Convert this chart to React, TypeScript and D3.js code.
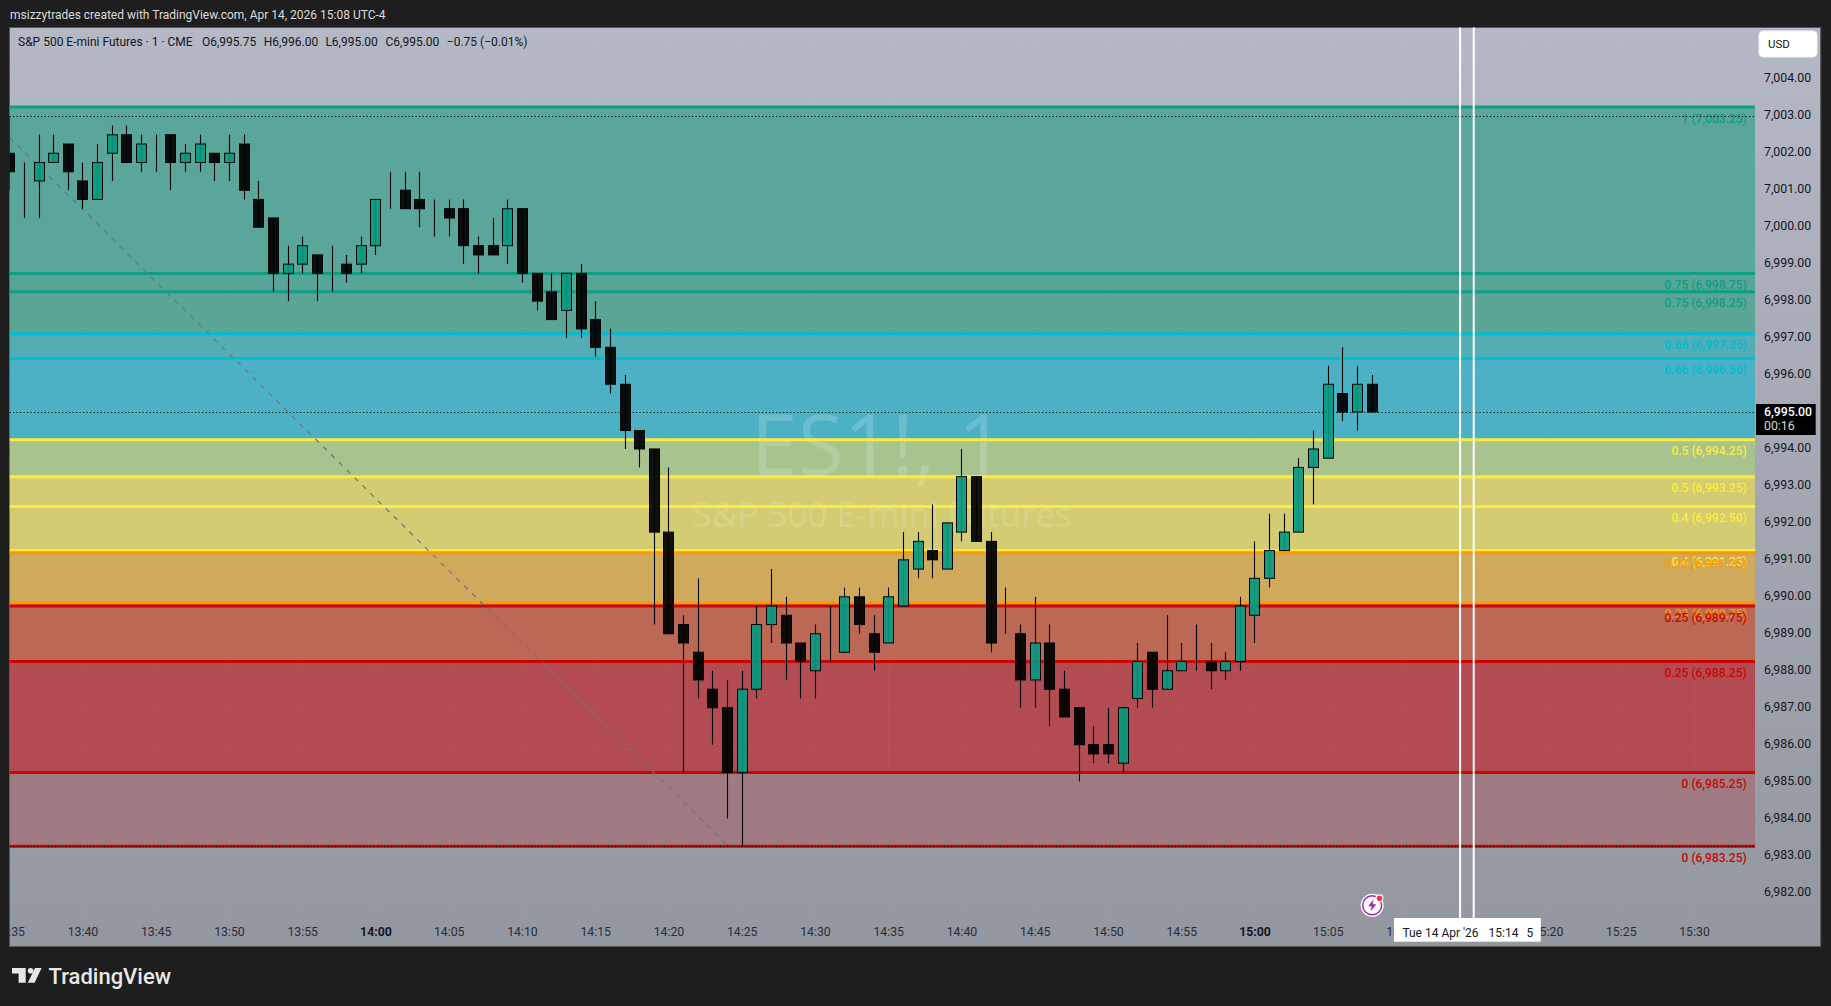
import * as d3 from 'd3';
import { useEffect, useRef } from 'react';

const WIDTH = 1831;
const HEIGHT = 1006;
const FONT = 'Roboto, "Noto Sans", sans-serif';

// one value per 1 minute bar, starting at 13:35
const opens = [
  7002, 7001.5, 7001.25, 7001.75, 7002.25, 7001.25, 7000.75, 7002, 7002.5, 7001.75,
  7002.25, 7002.5, 7001.75, 7001.75, 7002, 7001.75, 7002.25, 7000.75, 7000.25, 6998.75,
  6999, 6999.25, 6999, 6999, 6999, 6999.5, 7000.75, 7001, 7000.75, 7000.5,
  7000.5, 7000.5, 6999.5, 6999.5, 6999.5, 7000.5, 6998.75, 6998.25, 6997.75, 6998.75,
  6997.5, 6996.75, 6995.75, 6994.5, 6994, 6991.75, 6989.25, 6988.5, 6987.5, 6987,
  6985.25, 6987.5, 6989.25, 6989.5, 6988.75, 6988, 6988.75, 6988.5, 6990, 6989,
  6988.75, 6989.75, 6990.75, 6991.25, 6990.75, 6991.75, 6993.25, 6991.5, 6989, 6989,
  6987.75, 6988.75, 6987.5, 6987, 6986, 6986, 6985.5, 6987.25, 6988.5, 6987.5,
  6988, 6988.25, 6988.25, 6988, 6988.25, 6989.5, 6990.5, 6991.25, 6991.75, 6993.5,
  6993.75, 6995.5, 6995, 6995.75,
];
const highs = [
  7003, 7001.75, 7002.5, 7002.5, 7002.25, 7001.75, 7002.25, 7002.75, 7002.75, 7002.5,
  7002.5, 7002.5, 7002.25, 7002.5, 7002, 7002.5, 7002.5, 7001.25, 7000.25, 6999.5,
  6999.75, 6999.25, 6999.5, 6999.25, 6999.75, 7000.75, 7001.5, 7001.5, 7001.5, 7000.75,
  7000.75, 7000.75, 6999.75, 7000.25, 7000.75, 7000.5, 6998.75, 6998.75, 6998.75, 6999,
  6998, 6997.25, 6996, 6994.5, 6994, 6993.5, 6989.5, 6990.5, 6988, 6987.75,
  6988, 6989.75, 6990.75, 6990, 6988.75, 6989.25, 6989.75, 6990.25, 6990.25, 6989.5,
  6990.25, 6991.75, 6991.75, 6992.5, 6992, 6994, 6993.25, 6991.75, 6990.25, 6989.25,
  6990, 6989.25, 6988, 6987, 6986.5, 6987, 6987, 6988.75, 6988.5, 6989.5,
  6988.75, 6989.25, 6988.75, 6988.5, 6990, 6991.5, 6992.25, 6992.25, 6993.75, 6994.5,
  6996.25, 6996.75, 6996.25, 6996,
];
const lows = [
  7001, 7000.25, 7000.25, 7001.75, 7001, 7000.5, 7000.75, 7001.25, 7001.75, 7001.5,
  7001.5, 7001, 7001.5, 7001.5, 7001.25, 7001.25, 7000.75, 7000, 6998.25, 6998,
  6998.75, 6998, 6998.25, 6998.5, 6998.75, 6999.25, 7000.5, 7000.5, 7000, 6999.75,
  6999.75, 6999, 6998.75, 6999.25, 6999, 6998.5, 6997.75, 6997.5, 6997, 6997,
  6996.5, 6995.5, 6994, 6993.5, 6989.25, 6989, 6985.25, 6987.25, 6986, 6984,
  6983.25, 6987.25, 6988.75, 6987.75, 6987.25, 6987.25, 6988.25, 6988.5, 6989, 6988,
  6988.75, 6989.75, 6990.5, 6990.5, 6990.75, 6991.5, 6991.5, 6988.5, 6989, 6987,
  6987, 6986.5, 6986.75, 6985, 6985.5, 6985.5, 6985.25, 6987, 6987, 6987.5,
  6988, 6988, 6987.5, 6987.75, 6988, 6988.75, 6990.25, 6991.25, 6991.75, 6992.5,
  6993.75, 6994.75, 6994.5, 6995,
];
const closes = [
  7001.5, 7001.5, 7001.75, 7002, 7001.5, 7000.75, 7001.75, 7002.5, 7001.75, 7002.25,
  7002.25, 7001.75, 7002, 7002.25, 7001.75, 7002, 7001, 7000, 6998.75, 6999,
  6999.5, 6998.75, 6999, 6998.75, 6999.5, 7000.75, 7000.75, 7000.5, 7000.5, 7000.5,
  7000.25, 6999.5, 6999.25, 6999.25, 7000.5, 6998.75, 6998, 6997.5, 6998.75, 6997.25,
  6996.75, 6995.75, 6994.5, 6994, 6991.75, 6989, 6988.75, 6987.75, 6987, 6985.25,
  6987.5, 6989.25, 6989.75, 6988.75, 6988.25, 6989, 6988.75, 6990, 6989.25, 6988.5,
  6990, 6991, 6991.5, 6991, 6992, 6993.25, 6991.5, 6988.75, 6989, 6987.75,
  6988.75, 6987.5, 6986.75, 6986, 6985.75, 6985.75, 6987, 6988.25, 6987.5, 6988,
  6988.25, 6988.25, 6988, 6988.25, 6989.75, 6990.5, 6991.25, 6991.75, 6993.5, 6994,
  6995.75, 6995, 6995.75, 6995,
];

const levelPrices = [
  7003.25, 6998.75, 6998.25, 6997.12, 6996.45, 6994.25, 6993.25, 6992.44, 6991.25, 6991.19,
  6989.84, 6989.75, 6988.25, 6985.25, 6983.25,
];
const levelLabels = [
  '1 (7,003.25)', '0.75 (6,998.75)', '0.75 (6,998.25)', '0.66 (6,997.25)', '0.66 (6,996.50)',
  '0.5 (6,994.25)', '0.5 (6,993.25)', '0.4 (6,992.50)', '0.4 (6,991.25)', '0.33 (6,991.25)',
  '0.33 (6,989.75)', '0.25 (6,989.75)', '0.25 (6,988.25)', '0 (6,985.25)', '0 (6,983.25)',
];
const levelColors = [
  '#0f9e83', '#0f9e83', '#0f9e83', '#00bcd4', '#00bcd4', '#ffeb3b', '#ffeb3b', '#ffeb3b', '#ffeb3b',
  '#ff9800', '#ff9800', '#cc0505', '#cc0505', '#cc0505', '#cc0505',
];
// band drawn between level i and level i + 1
const zoneColors = [
  '#5aa69a', '#57a597', '#5aa596', '#53adb5', '#4db1c6', '#a9c38f', '#d3cc72', '#d3cc72', '#d3cc72',
  '#cfaa5c', '#c38a56', '#bb6854', '#b24c52', '#a07a82',
];

const timeLabels = [
  '13:35', '13:40', '13:45', '13:50', '13:55', '14:00', '14:05', '14:10', '14:15', '14:20',
  '14:25', '14:30', '14:35', '14:40', '14:45', '14:50', '14:55', '15:00', '15:05', '15:10',
  '15:15', '15:20', '15:25', '15:30',
];
const boldTimes = ['14:00', '15:00'];
const priceTicks = d3.range(6982, 7005);
const dottedPrices = [7003, 6995, 6983.25];
const legendParts = [
  'S&P 500 E-mini Futures · 1 · CME',
  'O6,995.75',
  'H6,996.00',
  'L6,995.00',
  'C6,995.00',
  '−0.75 (−0.01%)',
];
const legendX = [18, 202, 263.7, 325.4, 385.5, 446.8];
const crosshairBars = [99, 99.93];
const trendBars = [0.02, 49.05];
const trendPrices = [7002.42, 6983.25];

export default function App(): React.ReactElement {
  const svgRef = useRef<SVGSVGElement>(null);

  useEffect(() => {
    if (!svgRef.current) return;
    const svg = d3.select(svgRef.current);
    svg.selectAll('*').remove();

    const pane = { left: 9.5, top: 27.5, right: 1820.7, bottom: 946.5, plotRight: 1755 };
    const x = d3.scaleLinear().domain([0, 115]).range([9.7, 1694.5]);
    const y = d3.scaleLinear().domain([7003, 6983.25]).range([116.3, 846.3]);
    const fmt = d3.format(',.2f');

    const defs = svg.append('defs');
    const grad = defs
      .append('linearGradient')
      .attr('id', 'paneBg')
      .attr('x1', 0)
      .attr('x2', 0)
      .attr('y1', 0)
      .attr('y2', 1);
    grad.append('stop').attr('offset', 0).attr('stop-color', '#b5b8c5');
    grad.append('stop').attr('offset', 1).attr('stop-color', '#93979f');
    defs
      .append('clipPath')
      .attr('id', 'plotClip')
      .append('rect')
      .attr('x', pane.left)
      .attr('y', pane.top)
      .attr('width', pane.plotRight - pane.left)
      .attr('height', pane.bottom - pane.top);
    defs
      .append('clipPath')
      .attr('id', 'paneClip')
      .append('rect')
      .attr('x', pane.left)
      .attr('y', pane.top)
      .attr('width', pane.right - pane.left)
      .attr('height', pane.bottom - pane.top);

    svg.append('rect').attr('width', WIDTH).attr('height', HEIGHT).attr('fill', '#1e1e1e');

    svg
      .append('text')
      .attr('x', 10)
      .attr('y', 15)
      .attr('dominant-baseline', 'central')
      .attr('fill', '#dcdcdc')
      .style('font-size', '12px')
      .text('msizzytrades created with TradingView.com, Apr 14, 2026 15:08 UTC-4');

    svg
      .append('rect')
      .attr('x', pane.left)
      .attr('y', pane.top)
      .attr('width', pane.right - pane.left)
      .attr('height', pane.bottom - pane.top)
      .attr('fill', 'url(#paneBg)')
      .attr('stroke', '#555');

    const plot = svg.append('g').attr('clip-path', 'url(#plotClip)');

    // Fib bands
    plot
      .selectAll('rect.zone')
      .data(zoneColors)
      .enter()
      .append('rect')
      .attr('class', 'zone')
      .attr('x', pane.left)
      .attr('width', pane.plotRight - pane.left)
      .attr('y', (_, i) => y(levelPrices[i]))
      .attr('height', (_, i) => y(levelPrices[i + 1]) - y(levelPrices[i]))
      .attr('fill', (d) => d);

    // Grid, barely visible
    const grid = plot.append('g').attr('stroke', '#fff').attr('stroke-opacity', 0.035);
    timeLabels.forEach((_, i) => {
      grid
        .append('line')
        .attr('x1', x(i * 5))
        .attr('x2', x(i * 5))
        .attr('y1', pane.top)
        .attr('y2', pane.bottom - 27);
    });
    priceTicks.forEach((p) => {
      grid
        .append('line')
        .attr('x1', pane.left)
        .attr('x2', pane.plotRight)
        .attr('y1', y(p))
        .attr('y2', y(p));
    });

    // Watermark
    const midX = (pane.left + pane.plotRight) / 2;
    plot
      .append('text')
      .attr('x', midX - 4)
      .attr('y', 475)
      .attr('text-anchor', 'middle')
      .attr('fill', '#fff')
      .attr('fill-opacity', 0.17)
      .style('font-family', '"Open Sans", sans-serif')
      .style('font-size', '84px')
      .text('ES1!, 1');
    plot
      .append('text')
      .attr('x', midX)
      .attr('y', 527)
      .attr('text-anchor', 'middle')
      .attr('fill', '#fff')
      .attr('fill-opacity', 0.17)
      .style('font-family', '"Open Sans", sans-serif')
      .style('font-size', '35px')
      .text('S&P 500 E-mini Futures');

    // Fib lines
    plot
      .selectAll('line.level')
      .data(levelPrices)
      .enter()
      .append('line')
      .attr('class', 'level')
      .attr('x1', pane.left)
      .attr('x2', pane.plotRight)
      .attr('y1', (d) => y(d))
      .attr('y2', (d) => y(d))
      .attr('stroke', (_, i) => levelColors[i])
      .attr('stroke-width', 3);

    plot
      .selectAll('text.level')
      .data(levelLabels)
      .enter()
      .append('text')
      .attr('class', 'level')
      .attr('x', 1746.7)
      .attr('y', (_, i) => y(levelPrices[i]) + 11.6)
      .attr('text-anchor', 'end')
      .attr('dominant-baseline', 'central')
      .attr('fill', (_, i) => levelColors[i])
      .style('font-size', '12px')
      .style('font-weight', 500)
      .text((d) => d);

    // Dashed trend line of the fib tool
    plot
      .append('line')
      .attr('x1', x(trendBars[0]))
      .attr('y1', y(trendPrices[0]))
      .attr('x2', x(trendBars[1]))
      .attr('y2', y(trendPrices[1]))
      .attr('stroke', '#6f7380')
      .attr('stroke-width', 1.2)
      .attr('stroke-dasharray', '5 6');

    // Dotted price lines
    plot
      .selectAll('line.dotted')
      .data(dottedPrices)
      .enter()
      .append('line')
      .attr('class', 'dotted')
      .attr('x1', pane.left)
      .attr('x2', pane.plotRight)
      .attr('y1', (d) => Math.round(y(d)) + 0.5)
      .attr('y2', (d) => Math.round(y(d)) + 0.5)
      .attr('stroke', '#000')
      .attr('stroke-dasharray', '1.2 2.3');

    // Candles
    const candles = plot
      .selectAll('g.candle')
      .data(opens)
      .enter()
      .append('g')
      .attr('class', 'candle');
    candles
      .append('line')
      .attr('x1', (_, i) => Math.floor(x(i)) + 0.5)
      .attr('x2', (_, i) => Math.floor(x(i)) + 0.5)
      .attr('y1', (_, i) => y(highs[i]))
      .attr('y2', (_, i) => y(lows[i]))
      .attr('stroke', '#000')
      .attr('stroke-width', 1.1);
    candles
      .append('rect')
      .attr('x', (_, i) => Math.floor(x(i)) + 0.5 - 5)
      .attr('width', 10)
      .attr('y', (d, i) => y(Math.max(d, closes[i])))
      .attr('height', (d, i) => Math.abs(y(d) - y(closes[i])))
      .attr('fill', (d, i) => (closes[i] > d ? '#089981' : '#000'))
      .attr('fill-opacity', 0.92)
      .attr('stroke', '#000')
      .attr('stroke-width', 1);

    // Time axis
    const axis = svg.append('g').attr('clip-path', 'url(#paneClip)');
    axis
      .selectAll('text.time')
      .data(timeLabels)
      .enter()
      .append('text')
      .attr('class', 'time')
      .attr('x', (_, i) => x(i * 5))
      .attr('y', 931.7)
      .attr('text-anchor', 'middle')
      .attr('dominant-baseline', 'central')
      .attr('fill', (d) => (boldTimes.includes(d) ? '#131722' : '#2a2e39'))
      .style('font-size', '12.3px')
      .style('font-weight', (d) => (boldTimes.includes(d) ? 700 : 400))
      .text((d) => d);

    // Price axis
    svg
      .append('g')
      .selectAll('text')
      .data(priceTicks)
      .enter()
      .append('text')
      .attr('x', 1764)
      .attr('y', (d) => y(d) - 1)
      .attr('dominant-baseline', 'central')
      .attr('fill', '#131722')
      .style('font-size', '12.3px')
      .text((d) => fmt(d));

    // Last price tag
    svg
      .append('rect')
      .attr('x', 1756)
      .attr('y', 404)
      .attr('width', 59.7)
      .attr('height', 31)
      .attr('fill', '#000');
    svg
      .append('text')
      .attr('x', 1764)
      .attr('y', 411.7)
      .attr('dominant-baseline', 'central')
      .attr('fill', '#fff')
      .style('font-size', '12.3px')
      .style('font-weight', 500)
      .text(fmt(closes[closes.length - 1]));
    svg
      .append('text')
      .attr('x', 1764)
      .attr('y', 426)
      .attr('dominant-baseline', 'central')
      .attr('fill', '#d8d8d8')
      .style('font-size', '12.3px')
      .text('00:16');

    // Currency button
    svg
      .append('rect')
      .attr('x', 1758.7)
      .attr('y', 30.7)
      .attr('width', 58.6)
      .attr('height', 26.6)
      .attr('rx', 4)
      .attr('fill', '#fff')
      .attr('stroke', '#d8d9de');
    svg
      .append('text')
      .attr('x', 1768)
      .attr('y', 44.3)
      .attr('dominant-baseline', 'central')
      .attr('fill', '#131722')
      .style('font-size', '11.5px')
      .text('USD');

    // Legend
    svg
      .append('g')
      .selectAll('text')
      .data(legendParts)
      .enter()
      .append('text')
      .attr('x', (_, i) => legendX[i])
      .attr('y', 41.7)
      .attr('dominant-baseline', 'central')
      .attr('fill', '#131722')
      .style('font-size', '12px')
      .text((d) => d);

    // Crosshair range lines and the time tag
    svg
      .append('g')
      .selectAll('line')
      .data(crosshairBars)
      .enter()
      .append('line')
      .attr('x1', (d) => x(d))
      .attr('x2', (d) => x(d))
      .attr('y1', pane.top)
      .attr('y2', 918)
      .attr('stroke', '#fff')
      .attr('stroke-width', 2);
    svg
      .append('rect')
      .attr('x', 1394)
      .attr('y', 918)
      .attr('width', 146.8)
      .attr('height', 23.7)
      .attr('fill', '#fff');
    const tagParts = ["Tue 14 Apr '26", '15:14', '5'];
    const tagX = [1402.4, 1488.5, 1526.4];
    svg
      .append('g')
      .selectAll('text')
      .data(tagParts)
      .enter()
      .append('text')
      .attr('x', (_, i) => tagX[i])
      .attr('y', 932.7)
      .attr('dominant-baseline', 'central')
      .attr('fill', '#131722')
      .style('font-size', '12px')
      .text((d) => d);

    // Lightning badge
    const badge = svg.append('g').attr('transform', 'translate(1372.2,905.3)');
    badge.append('circle').attr('r', 11.5).attr('fill', '#fff');
    badge
      .append('circle')
      .attr('r', 9.5)
      .attr('fill', 'none')
      .attr('stroke', '#9c27b0')
      .attr('stroke-width', 1.5);
    badge
      .append('path')
      .attr('d', 'M1.5,-6 L-4,1 L-0.5,1 L-1.5,6 L4,-1 L0.5,-1 Z')
      .attr('fill', '#9c27b0');
    badge.append('circle').attr('cx', 7.3).attr('cy', -7).attr('r', 4).attr('fill', '#fff');
    badge.append('circle').attr('cx', 7.3).attr('cy', -7).attr('r', 2.8).attr('fill', '#f23645');

    // TradingView logo
    const logo = svg.append('g').attr('fill', '#e8e8e8');
    logo.append('path').attr('d', 'M12,968 H25.7 V982.7 H18.6 V973.6 H12 Z');
    logo.append('circle').attr('cx', 30.6).attr('cy', 970.8).attr('r', 2.8);
    logo.append('path').attr('d', 'M35,968 H41.6 L34.6,982.7 H27.8 Z');
    logo
      .append('text')
      .attr('x', 48.5)
      .attr('y', 976)
      .attr('dominant-baseline', 'central')
      .style('font-size', '22px')
      .style('font-weight', 500)
      .text('TradingView');
  }, []);

  return (
    <svg
      ref={svgRef}
      width={WIDTH}
      height={HEIGHT}
      style={{ position: 'absolute', left: 0, top: 0, display: 'block', fontFamily: FONT }}
    />
  );
}
